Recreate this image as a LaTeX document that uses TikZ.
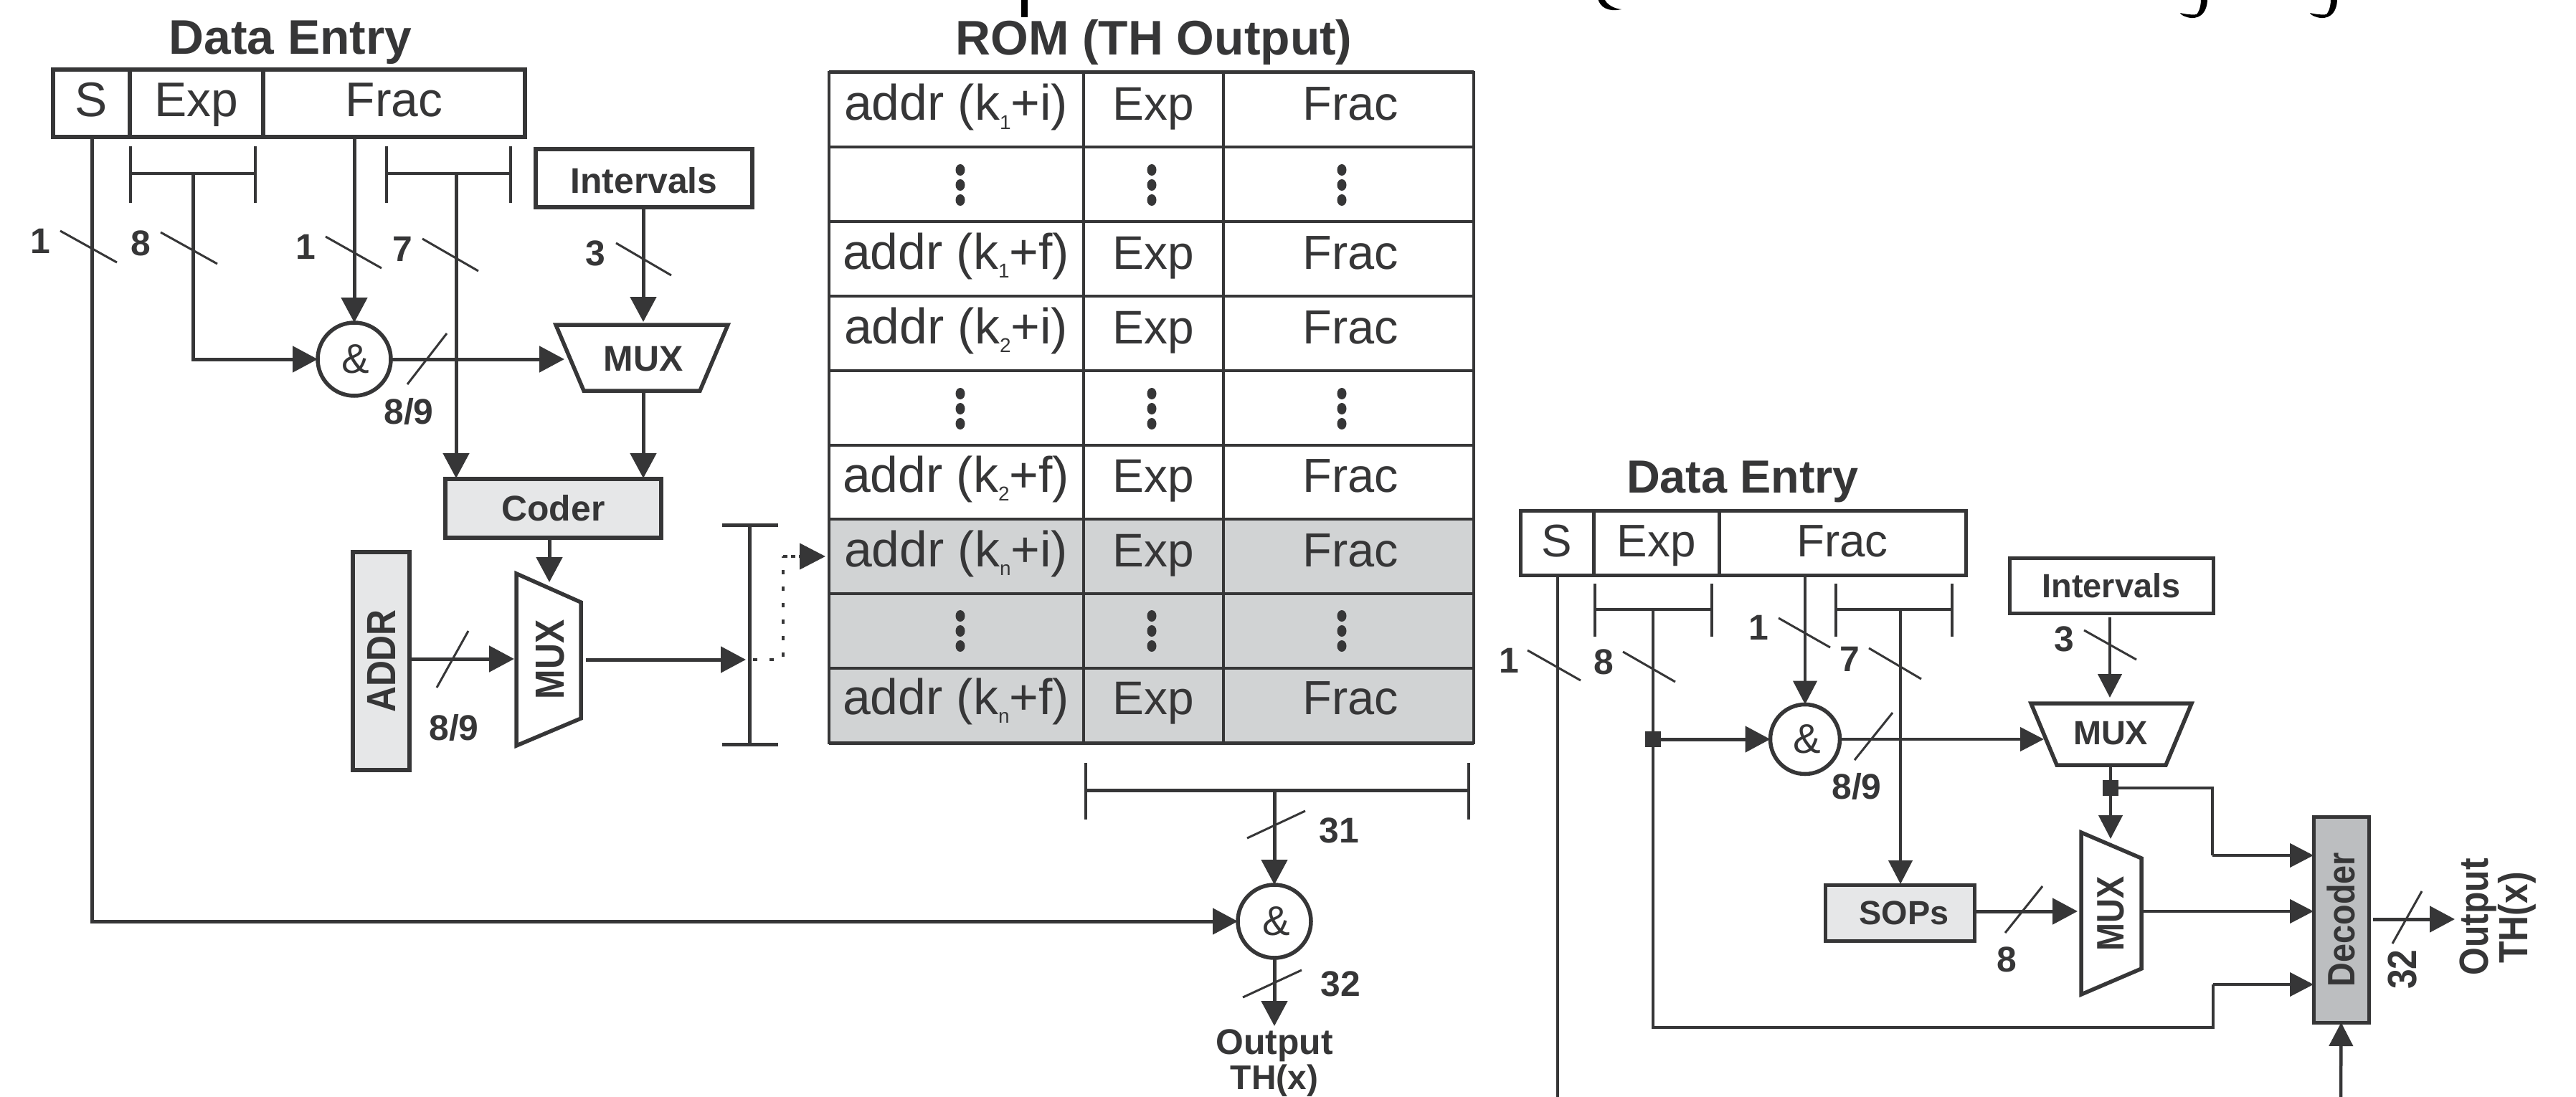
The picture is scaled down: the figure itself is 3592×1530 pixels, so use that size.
\documentclass[tikz,border=0pt]{standalone}
\usepackage{fontspec}
\setmainfont{Liberation Sans}
\usetikzlibrary{arrows.meta,shapes.geometric}
\definecolor{ink}{HTML}{363637}
\definecolor{lightbox}{HTML}{E6E7E8}
\definecolor{romgray}{HTML}{D1D3D4}
\definecolor{decgray}{HTML}{BCBEC0}
\newcommand{\fsz}[1]{\fontsize{#1}{#1}\selectfont}
\newcommand{\sbs}[1]{\raisebox{-12bp}{\fsz{28}#1}}
\newcommand{\wide}[1]{\scalebox{1}[1.14]{#1}}
% rectangle node from corners: name, x1, y1, x2, y2, style, text
\newcommand{\rbox}[7]{\node[#6,minimum width={(#4-#2)*1bp},minimum height={(#5-#3)*1bp}] (#1) at ({(#2+#4)/2},{(#3+#5)/2}) {#7};}
\tikzset{
  wire/.style={draw=ink,line width=5bp},
  thinwire/.style={draw=ink,line width=4.5bp},
  arr/.style={wire,-{Triangle[length=35bp,width=36bp]}},
  thinarr/.style={thinwire,-{Triangle[length=33bp,width=33bp]}},
  tick/.style={draw=ink,line width=3bp},
  dbox/.style={draw=ink,line width=6bp,inner sep=0pt,outer sep=0pt},
  hdr/.style={text height=38bp,text depth=0bp},
  rbox2/.style={draw=ink,line width=5bp,inner sep=0pt,outer sep=0pt},
  cell/.style={draw=ink,line width=3.5bp,inner sep=0pt,outer sep=0pt,fill=#1},
  cell/.default=white,
  title/.style={text=ink,font=\bfseries\fsz{68},inner sep=0pt},
  entry/.style={text=ink,font=\fsz{66},inner sep=0pt,anchor=base},
  blabel/.style={text=ink,font=\bfseries\fsz{50},inner sep=0pt},
  andnode/.style={circle,draw=ink,line width=5.5bp,fill=white,minimum size=#1,inner sep=0pt,outer sep=0pt,text=ink,font=\fsz{58}},
  junction/.style={fill=ink,minimum size=22bp,inner sep=0pt,outer sep=0pt},
  trap/.style={draw=ink,line width=5.5bp,fill=white,line join=miter},
}
\begin{document}
\begin{tikzpicture}[x=1bp,y=-1bp]
\clip (0,0) rectangle (3592,1530);
\fill[white] (0,0) rectangle (3592,1530);

% ---- clipped marks along the top edge ----
\fill[black] (1424,-2) rectangle (1433,24);
\fill[black] (2228,-2) .. controls (2231,10) and (2242,17) .. (2261,13) .. controls (2250,12) and (2240,6) .. (2237,-2) -- cycle;
\foreach \dx in {0,181}{
  \fill[black,xshift=\dx bp] (3078,-2) .. controls (3078,15) and (3070,26) .. (3055,25) .. controls (3047,24) and (3041,21) .. (3040,18) .. controls (3048,20) and (3058,21) .. (3063,20) .. controls (3068,14) and (3069,5) .. (3069,-2) -- cycle;
}

% ---- left block: data entry ----
\node[title] (title1) at (405,59) {Data Entry};
\rbox{ds1}{74}{97}{181}{191}{dbox,hdr}{\fsz{68}\color{ink}S}
\rbox{de1}{181}{97}{367}{191}{dbox,hdr}{\fsz{68}\color{ink}Exp}
\rbox{df1}{367}{97}{732}{191}{dbox,hdr}{\fsz{68}\color{ink}Frac}

\draw[thinwire] (182,204) -- (182,283);
\draw[thinwire] (356,204) -- (356,283);
\draw[thinwire] (182,242) -- (356,242);
\draw[thinwire] (539,204) -- (539,283);
\draw[thinwire] (712,204) -- (712,283);
\draw[thinwire] (539,242) -- (712,242);

\rbox{int1}{747}{208}{1049}{289}{dbox,text height=41bp,text depth=0bp}{\bfseries\fsz{50}\color{ink}Intervals}
\node[andnode=102bp] (and1) at (494,501) {\hspace*{3bp}\&};
\draw[trap] (775,453) -- (1015,453) -- (976,545) -- (814,545) -- cycle;
\node[blabel] (mux1) at (897,501) {MUX};
\coordinate (mux1t) at (897,449); \coordinate (mux1b) at (897,545); \coordinate (mux1l) at (787,501);
\rbox{cod}{621}{668}{922}{750}{dbox,fill=lightbox}{\bfseries\fsz{50}\color{ink}Coder}
\rbox{addr}{492}{770}{571}{1074}{dbox,fill=lightbox}{\rotatebox{90}{\wide{\bfseries\fsz{50}\color{ink}ADDR}}}
\draw[trap] (720,800) -- (810,840) -- (810,1002) -- (720,1040) -- cycle;
\node[blabel,rotate=90] (mux2) at (767,920) {\wide{MUX}};
\coordinate (mux2t) at (766,812); \coordinate (mux2l) at (717,919); \coordinate (mux2r) at (817,920);

\draw[arr] (269,242) |- (and1.west);
\draw[arr] (494,191) -- (and1.north);
\draw[arr] (636,242) -- (636,667);
\draw[arr] (and1.east) -- (mux1l);
\draw[arr] (897,289) -- (mux1t);
\draw[arr] (mux1b) -- (897,667);
\draw[arr] (cod.south -| mux2t) -- (mux2t);
\draw[arr] (addr.east |- mux2l) -- (mux2l);
\draw[arr] (mux2r) -- (1040,920);

% ticks and bit labels
\draw[tick] (84,322) -- (163,366);   \node[blabel] (l1) at (56,336) {1};
\draw[tick] (224,324) -- (303,368);  \node[blabel] (l2) at (196,339) {8};
\draw[tick] (454,330) -- (532,374);  \node[blabel] (l3) at (426,344) {1};
\draw[tick] (589,333) -- (667,378);  \node[blabel] (l4) at (561,347) {7};
\draw[tick] (859,339) -- (936,384);  \node[blabel] (l5) at (830,353) {3};
\draw[tick] (623,465) -- (568,536);  \node[blabel] (l6) at (570,574) {8/9};
\draw[tick] (653,880) -- (609,959);  \node[blabel] (l7) at (633,1015) {8/9};

% address selector bracket
\draw[wire] (1045,732) -- (1045,1038);
\draw[wire] (1007,732) -- (1085,732);
\draw[wire] (1007,1038) -- (1085,1038);
\coordinate (dot1) at (1050,920); \coordinate (dot2) at (1092,920); \coordinate (dot3) at (1092,776);
\draw[draw=ink,line width=4.5bp,dash pattern=on 6bp off 17bp] (dot1) -- (dot2) -- (dot3);
\draw[draw=ink,line width=4.5bp,dash pattern=on 6bp off 5bp,-{Triangle[length=36bp,width=36bp]}] (dot3) -- (1151,776);

% ---- ROM ----
\node[title] (romt) at (1609,59) {ROM (TH Output)};
\foreach \n/\yy/\fc in {1/101/white,2/205/white,3/309/white,4/413/white,5/517/white,6/621/white,7/724/romgray,8/828/romgray,9/932/romgray}{
  \pgfmathsetmacro{\yb}{\yy+104}
  \rbox{ra\n}{1156}{\yy}{1511}{\yb}{cell=\fc}{}
  \rbox{rb\n}{1511}{\yy}{1706}{\yb}{cell=\fc}{}
  \rbox{rc\n}{1706}{\yy}{2055}{\yb}{cell=\fc}{}
}
\draw[ink,line width=5bp] (1156,101) -- (2055,101);
\draw[ink,line width=5bp] (1156,1036) -- (2055,1036);
\foreach \n/\yy/\ca in {1/168/addr (k\sbs{1}+i),3/375/addr (k\sbs{1}+f),4/479/addr (k\sbs{2}+i),6/686/addr (k\sbs{2}+f),7/790/addr (k\sbs{n}+i),9/996/addr (k\sbs{n}+f)}{
  \node[entry,font=\fsz{70}] (ta\n) at (1333,\yy) {\ca};
  \node[entry] (tb\n) at (1608,\yy) {Exp};
  \node[entry,font=\fsz{67}] (tc\n) at (1883,\yy) {Frac};
}
\foreach \yy in {258,570,880}{
  \foreach \xx in {1339,1606,1871}{
    \fill[ink] (\xx,\yy-21) ellipse (6.5bp and 8bp);
    \fill[ink] (\xx,\yy) ellipse (6.5bp and 8bp);
    \fill[ink] (\xx,\yy+21) ellipse (6.5bp and 8bp);
  }
}

% output bracket and sign combine
\draw[wire] (1514,1102) -- (2048,1102);
\draw[thinwire] (1514,1064) -- (1514,1143);
\draw[thinwire] (2048,1064) -- (2048,1143);
\node[andnode=102bp] (and2) at (1777,1285) {\hspace*{5bp}\&};
\draw[arr] (1777,1102) -- (and2.north);
\coordinate (out1) at (1777,1431);
\draw[arr] (and2.south) -- (out1);
\draw[arr] (128,191) |- (and2.west);
\draw[tick] (1820,1131) -- (1739,1169); \node[blabel] (l8) at (1867,1158) {31};
\draw[tick] (1815,1353) -- (1733,1391); \node[blabel] (l9) at (1869,1372) {32};
\node[blabel] (o1) at (1777,1458) {Output};
\node[blabel,font=\bfseries\fsz{48}] (o2) at (1777,1507) {TH(x)};

% ---- right block ----
\node[title,font=\bfseries\fsz{65}] (title2) at (2430,672) {Data Entry};
\rbox{ds2}{2120}{712}{2222}{802}{rbox2,hdr}{\fsz{64}\color{ink}S}
\rbox{de2}{2222}{712}{2397}{802}{rbox2,hdr}{\fsz{64}\color{ink}Exp}
\rbox{df2}{2397}{712}{2741}{802}{rbox2,hdr}{\fsz{64}\color{ink}Frac}
\draw[thinwire] (2224,814) -- (2224,888);
\draw[thinwire] (2387,814) -- (2387,888);
\draw[thinwire] (2224,850) -- (2387,850);
\draw[thinwire] (2560,814) -- (2560,888);
\draw[thinwire] (2722,814) -- (2722,888);
\draw[thinwire] (2560,850) -- (2722,850);

\rbox{int2}{2802}{778}{3086}{855}{rbox2}{\bfseries\fsz{47}\color{ink}Intervals}
\node[andnode=97bp] (and3) at (2517,1031) {\hspace*{6bp}\&};
\draw[trap] (2832,981) -- (3056,981) -- (3020,1067) -- (2868,1067) -- cycle;
\node[blabel,font=\bfseries\fsz{47}] (mux3) at (2943,1023) {MUX};
\coordinate (mux3t) at (2942,973); \coordinate (mux3b) at (2943,1067); \coordinate (mux3l) at (2850,1031);
\draw[trap] (2902,1161) -- (2986,1197) -- (2986,1351) -- (2902,1387) -- cycle;
\node[blabel,rotate=90,font=\bfseries\fsz{47}] (mux4) at (2943,1274) {\wide{MUX}};
\coordinate (mux4t) at (2943,1170); \coordinate (mux4l) at (2897,1271); \coordinate (mux4r) at (2986,1271);
\rbox{sops}{2545}{1234}{2753}{1312}{rbox2,fill=lightbox}{\bfseries\fsz{47}\color{ink}\hspace*{12bp}SOPs}
\rbox{dec}{3226}{1139}{3303}{1426}{rbox2,fill=decgray}{\rotatebox{90}{\wide{\bfseries\fsz{47}\color{ink}Decoder}}}
\node[junction] (j1) at (2305,1031) {};
\node[junction] (j2) at (2943,1099) {};
\coordinate (dec1) at (dec.west |- 0,1193); \coordinate (dec2) at (dec.west |- 0,1271); \coordinate (dec3) at (dec.west |- 0,1373);
\coordinate (decb) at (dec.south); \coordinate (decr) at (3423,1282);

\draw[thinwire] (2172,802) -- (2172,1530);
\draw[thinarr] (2517,802) -- (and3.north);
\draw[thinwire] (2305,850) -- (2305,1433) -- (3086,1433) -- (3086,1373);
\draw[thinarr] (3086,1373) -- (dec3);
\draw[arr] (j1) -- (and3.west);
\draw[thinarr] (2650,850) -- (2650,1233);
\draw[thinarr] (and3.east) -- (mux3l);
\draw[thinarr] (2942,861) -- (mux3t);
\draw[thinarr] (mux3b) -- (mux4t);
\draw[thinwire] (j2) -- (3085,1099) -- (3085,1193);
\draw[thinarr] (3085,1193) -- (dec1);
\draw[arr] (sops.east |- mux4l) -- (mux4l);
\draw[thinarr] (mux4r) -- (dec2);
\draw[thinarr] (3264,1530) -- (decb);
\draw[arr] (3309,1282) -- (decr);

\draw[tick] (2130,907) -- (2204,949); \node[blabel] (r1) at (2104,921) {1};
\draw[tick] (2263,909) -- (2336,951); \node[blabel] (r2) at (2236,923) {8};
\draw[tick] (2480,862) -- (2552,903); \node[blabel] (r3) at (2452,875) {1};
\draw[tick] (2606,904) -- (2679,947); \node[blabel] (r4) at (2579,919) {7};
\draw[tick] (2906,879) -- (2979,920); \node[blabel] (r5) at (2878,891) {3};
\draw[tick] (2639,994) -- (2586,1060); \node[blabel] (r6) at (2589,1097) {8/9};
\draw[tick] (2848,1236) -- (2796,1301); \node[blabel] (r7) at (2798,1338) {8};
\draw[tick] (3377,1243) -- (3336,1316); \node[blabel,rotate=90] (r8) at (3350,1352) {\wide{32}};
\node[blabel,rotate=90] (o3) at (3456,1279) {\wide{Output}};
\node[blabel,rotate=90] (o4) at (3510,1280) {\wide{TH(x)}};
\end{tikzpicture}
\end{document}
